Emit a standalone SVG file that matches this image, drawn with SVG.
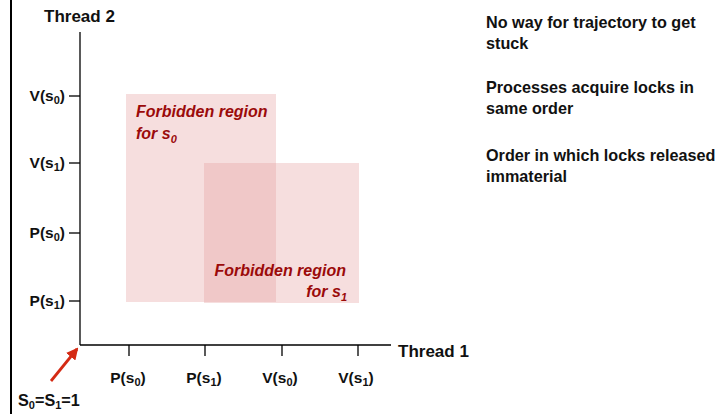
<svg xmlns="http://www.w3.org/2000/svg" width="723" height="414" viewBox="0 0 723 414">
<defs>
<style>
.t{font-family:"Liberation Sans",Arial,sans-serif;font-weight:bold;font-size:16.2px;fill:#111}
.big{font-size:17px}
.lab{font-family:"Liberation Sans",Arial,sans-serif;font-weight:bold;font-size:15.5px;fill:#111}
.sub{font-size:11px}
.fr{font-family:"Liberation Sans",Arial,sans-serif;font-weight:bold;font-style:italic;font-size:16px;fill:#9b0a0a}
.ax{stroke:#000;stroke-width:1.3;fill:none}
.region{fill:#e6a0a0;fill-opacity:0.35}
</style>
<marker id="ah" markerWidth="12" markerHeight="12" refX="10" refY="6" orient="auto" markerUnits="userSpaceOnUse">
<path d="M0,0 L12,6 L0,12 Z" fill="#d42a14"/>
</marker>
</defs>
<rect x="0" y="0" width="723" height="414" fill="#fff"/>
<line x1="11" y1="0" x2="11" y2="414" stroke="#000" stroke-width="2"/>

<g id="region-s0">
<rect class="region" x="126" y="94" width="150" height="208"/>
<text class="fr" x="136" y="117">Forbidden region</text>
<text class="fr" x="136" y="139">for s<tspan class="sub" dy="4">0</tspan></text>
</g>
<g id="region-s1">
<rect class="region" x="204" y="163" width="155" height="140"/>
<text class="fr" x="346" y="276" text-anchor="end">Forbidden region</text>
<text class="fr" x="347" y="297" text-anchor="end">for s<tspan class="sub" dy="4">1</tspan></text>
</g>

<g id="axes">
<line class="ax" x1="80" y1="32" x2="80" y2="345"/>
<line class="ax" x1="80" y1="345" x2="391" y2="345"/>
<line class="ax" x1="69" y1="96" x2="80" y2="96"/>
<line class="ax" x1="69" y1="163" x2="80" y2="163"/>
<line class="ax" x1="69" y1="233" x2="80" y2="233"/>
<line class="ax" x1="69" y1="301" x2="80" y2="301"/>
<line class="ax" x1="129" y1="345" x2="129" y2="356"/>
<line class="ax" x1="205" y1="345" x2="205" y2="356"/>
<line class="ax" x1="282" y1="345" x2="282" y2="356"/>
<line class="ax" x1="358" y1="345" x2="358" y2="356"/>
</g>

<g id="labels">
<text class="t big" x="44" y="22">Thread 2</text>
<text class="t big" x="398" y="357">Thread 1</text>
<text class="lab" x="65" y="101" text-anchor="end">V(s<tspan class="sub" dy="3">0</tspan><tspan dy="-3">)</tspan></text>
<text class="lab" x="65" y="168" text-anchor="end">V(s<tspan class="sub" dy="3">1</tspan><tspan dy="-3">)</tspan></text>
<text class="lab" x="65" y="238" text-anchor="end">P(s<tspan class="sub" dy="3">0</tspan><tspan dy="-3">)</tspan></text>
<text class="lab" x="65" y="306" text-anchor="end">P(s<tspan class="sub" dy="3">1</tspan><tspan dy="-3">)</tspan></text>
<text class="lab" x="128" y="383" text-anchor="middle">P(s<tspan class="sub" dy="3">0</tspan><tspan dy="-3">)</tspan></text>
<text class="lab" x="204" y="383" text-anchor="middle">P(s<tspan class="sub" dy="3">1</tspan><tspan dy="-3">)</tspan></text>
<text class="lab" x="280" y="383" text-anchor="middle">V(s<tspan class="sub" dy="3">0</tspan><tspan dy="-3">)</tspan></text>
<text class="lab" x="356" y="383" text-anchor="middle">V(s<tspan class="sub" dy="3">1</tspan><tspan dy="-3">)</tspan></text>
<text class="t" x="18" y="406">S<tspan class="sub" dy="3">0</tspan><tspan dy="-3">=S</tspan><tspan class="sub" dy="3">1</tspan><tspan dy="-3">=1</tspan></text>
</g>

<g id="connectors">
<line x1="51" y1="381" x2="77" y2="349" stroke="#d42a14" stroke-width="2.8" marker-end="url(#ah)"/>
</g>

<g id="notes">
<text class="t" x="486" y="28">No way for trajectory to get</text>
<text class="t" x="486" y="49">stuck</text>
<text class="t" x="486" y="93">Processes acquire locks in</text>
<text class="t" x="486" y="114">same order</text>
<text class="t" x="486" y="161">Order in which locks released</text>
<text class="t" x="486" y="182">immaterial</text>
</g>
</svg>
